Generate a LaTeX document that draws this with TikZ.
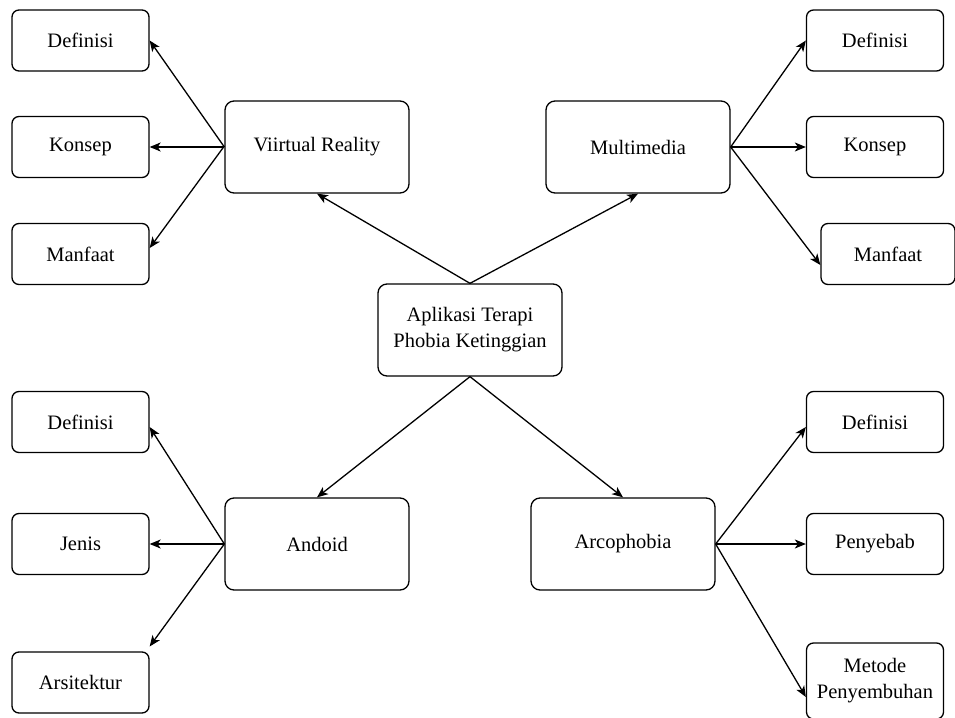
\documentclass[tikz,border=0pt]{standalone}
\usepackage{fontspec}
\setmainfont{Liberation Serif}
\usetikzlibrary{arrows.meta,positioning}

\begin{document}
\begin{tikzpicture}[x=1pt,y=-1pt]
\tikzset{box/.style = {shape=rectangle,draw,rounded corners=9pt,line width=1.3pt,
  minimum width=184pt,minimum height=92pt,inner sep=0pt,align=center,
  font=\fontsize{20.5}{26}\selectfont}}
\tikzset{leaf/.style = {box,rounded corners=7pt,minimum width=137pt,minimum height=61pt}}
\tikzset{edge/.style = {-{Stealth[length=11pt,width=9pt,inset=3pt]},line width=1.3pt}}
\clip (0,0) rectangle (955,717);
% NODES
\node[box] (app) at (470,330) {Aplikasi Terapi\\Phobia Ketinggian};
\node[box] (vr) at (317,147) {Viirtual Reality};
\node[box] (mm) at (638,147) {Multimedia};
\node[box] (an) at (317,544) {Andoid};
\node[box] (ar) at (623,544) {Arcophobia};

\node[leaf] (vrdef) at (80.5,40.5) {Definisi};
\node[leaf] (vrkon) at (80.5,147) {Konsep};
\node[leaf] (vrman) at (80.5,254) {Manfaat};

\node[leaf] (mmdef) at (875,40.5) {Definisi};
\node[leaf] (mmkon) at (875,147) {Konsep};
\node[leaf,minimum width=134pt] (mmman) at (888,254) {Manfaat};

\node[leaf] (andef) at (80.5,422) {Definisi};
\node[leaf] (anjen) at (80.5,544) {Jenis};
\node[leaf] (anars) at (80.5,682.5) {Arsitektur};

\node[leaf] (ardef) at (875,422) {Definisi};
\node[leaf] (arpen) at (875,544) {Penyebab};
\node[leaf,minimum height=76pt] (armet) at (875,681) {Metode\\Penyembuhan};
% EDGES
\draw[edge] (app.north) to (vr.south);
\draw[edge] (app.north) to (mm.south);
\draw[edge] (app.south) to (an.north);
\draw[edge] (app.south) to (ar.north);

\draw[edge] (vr.west) to (vrdef.east);
\draw[edge] (vr.west) to (vrkon.east);
\draw[edge] ([yshift=1pt]vr.west) to ([yshift=6pt]vrman.east);

\draw[edge] (mm.east) to (mmdef.west);
\draw[edge] (mm.east) to (mmkon.west);
\draw[edge] (mm.east) to ([yshift=-11pt]mmman.west);

\draw[edge] (an.west) to ([yshift=-5pt]andef.east);
\draw[edge] (an.west) to (anjen.east);
\draw[edge] (an.west) to ([yshift=36pt]anars.east);

\draw[edge] (ar.east) to ([yshift=-5pt]ardef.west);
\draw[edge] (ar.east) to (arpen.west);
\draw[edge] (ar.east) to ([yshift=-16pt]armet.west);
\end{tikzpicture}
\end{document}
